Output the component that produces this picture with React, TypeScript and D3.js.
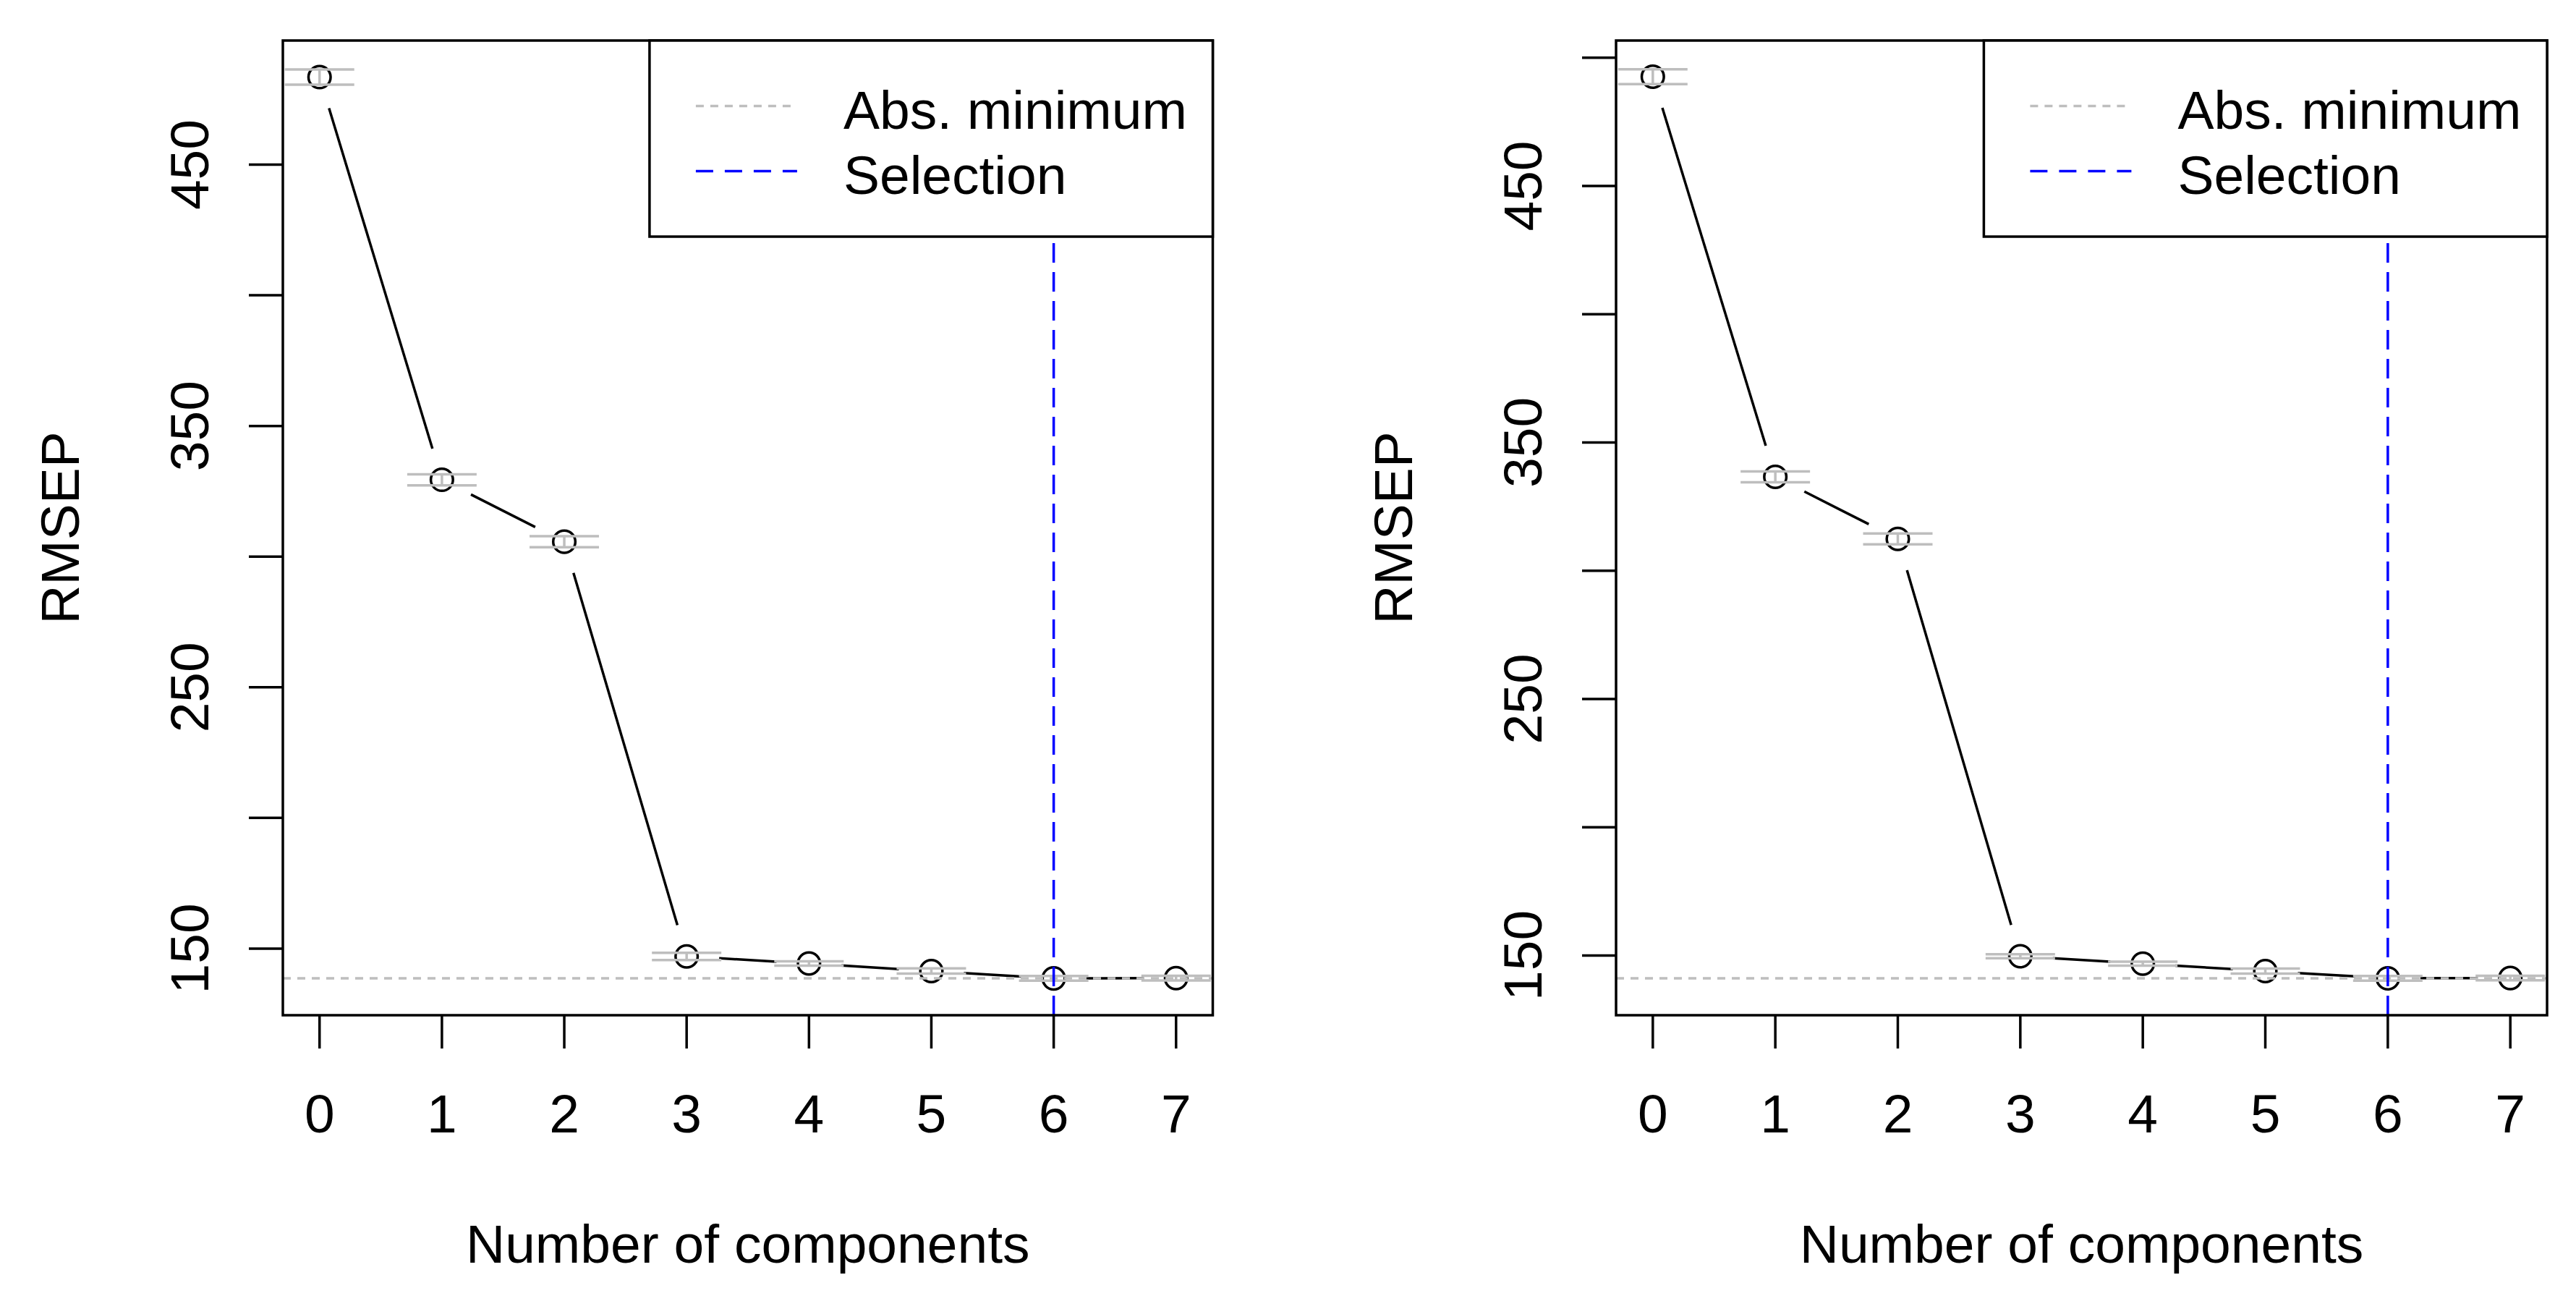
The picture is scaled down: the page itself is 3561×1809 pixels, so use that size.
import React from "react";
import * as d3 from "d3";

// ---------------- data ----------------
const components = [0, 1, 2, 3, 4, 5, 6, 7];
const rmsepLeft = [483.5, 329.4, 305.7, 147.0, 144.3, 141.4, 138.6, 138.7];
const seLeft = [2.9, 2.1, 2.1, 1.4, 0.8, 1.0, 0.9, 0.9];
const rmsepRight = [492.6, 336.6, 312.4, 149.7, 146.8, 143.9, 141.1, 141.2];
const seRight = [2.9, 2.1, 2.1, 0.8, 0.8, 1.0, 0.9, 0.9];
const absMinLeft = 138.6;
const absMinRight = 141.1;
const selectedComp = 6;
const yTicksLeft = [150, 200, 250, 300, 350, 400, 450];
const yTicksRight = [150, 200, 250, 300, 350, 400, 450, 500];
const yTickLabels = [150, 250, 350, 450];
const xTickValues = [0, 1, 2, 3, 4, 5, 6, 7];
const legendLabels = ["Abs. minimum", "Selection"];
const xTitle = "Number of components";
const yTitle = "RMSEP";

// ---------------- layout / style ----------------
const W = 3561;
const H = 1809;
const FONT = "'Liberation Sans', Arial, Helvetica, sans-serif";
const FS = 75;
const LW = 3.5;
const GRAY = "#BEBEBE";
const BLUE = "#0000FF";

type PanelProps = {
  x0: number;
  x1: number;
  y0: number;
  y1: number;
  yDomain: [number, number];
  values: number[];
  se: number[];
  absMin: number;
  yTicks: number[];
};

function Panel({ x0, x1, y0, y1, yDomain, values, se, absMin, yTicks }: PanelProps) {
  const x = d3.scaleLinear().domain([-0.3, 7.3]).range([x0, x1]);
  const y = d3.scaleLinear().domain(yDomain).range([y1, y0]);
  const pts = components.map((c, i) => [x(c), y(values[i])] as [number, number]);
  const gap = 45;
  const capHalf = 48;
  const r = 15.3;

  const segs: string[] = [];
  for (let i = 0; i < pts.length - 1; i++) {
    const [ax, ay] = pts[i];
    const [bx, by] = pts[i + 1];
    const dx = bx - ax;
    const dy = by - ay;
    const d = Math.hypot(dx, dy);
    if (d <= 2 * gap) continue;
    const ux = dx / d;
    const uy = dy / d;
    const path = d3.path();
    path.moveTo(ax + ux * gap, ay + uy * gap);
    path.lineTo(bx - ux * gap, by - uy * gap);
    segs.push(path.toString());
  }

  const legL = x1 - 778.6;
  const legT = y0;
  const legB = y0 + 271;
  const rowY = [legT + 90.6, legT + 180.4];
  const rowBase = [legT + 121.8, legT + 212];

  const cx = (x0 + x1) / 2;
  const cy = (y0 + y1) / 2;

  return (
    <g>
      {/* connecting lines (type = "b") */}
      {segs.map((p, i) => (
        <path key={"s" + i} d={p} stroke="#000" strokeWidth={LW} fill="none" strokeLinecap="butt" />
      ))}
      {/* points */}
      {pts.map(([px, py], i) => (
        <circle key={"c" + i} cx={px} cy={py} r={r} fill="none" stroke="#000" strokeWidth={LW} />
      ))}
      {/* error bars */}
      {components.map((c, i) => {
        const xc = x(c);
        const lo = y(values[i] - se[i]);
        const hi = y(values[i] + se[i]);
        return (
          <g key={"e" + i} stroke={GRAY} strokeWidth={LW} fill="none">
            <line x1={xc} x2={xc} y1={lo} y2={hi} />
            <line x1={xc - capHalf} x2={xc + capHalf} y1={lo} y2={lo} />
            <line x1={xc - capHalf} x2={xc + capHalf} y1={hi} y2={hi} />
          </g>
        );
      })}
      {/* absolute minimum */}
      <line
        x1={x0}
        x2={x1}
        y1={y(absMin)}
        y2={y(absMin)}
        stroke={GRAY}
        strokeWidth={LW}
        strokeDasharray="11 9"
      />
      {/* selection */}
      <line
        x1={x(selectedComp)}
        x2={x(selectedComp)}
        y1={y1}
        y2={y0}
        stroke={BLUE}
        strokeWidth={LW}
        strokeDasharray="27 13"
      />
      {/* box */}
      <rect x={x0} y={y0} width={x1 - x0} height={y1 - y0} fill="none" stroke="#000" strokeWidth={LW} />
      {/* x axis */}
      {xTickValues.map((t) => (
        <g key={"xt" + t}>
          <line x1={x(t)} x2={x(t)} y1={y1} y2={y1 + 46} stroke="#000" strokeWidth={LW} />
          <text x={x(t)} y={1565} textAnchor="middle" fontFamily={FONT} fontSize={FS} fill="#000">
            {t}
          </text>
        </g>
      ))}
      {/* y axis */}
      {yTicks.map((t) => (
        <line key={"yt" + t} x1={x0} x2={x0 - 47} y1={y(t)} y2={y(t)} stroke="#000" strokeWidth={LW} />
      ))}
      {yTickLabels.map((t) => (
        <text
          key={"yl" + t}
          transform={`translate(${x0 - 102.7},${y(t)}) rotate(-90)`}
          textAnchor="middle"
          fontFamily={FONT}
          fontSize={FS}
          fill="#000"
        >
          {t}
        </text>
      ))}
      {/* titles */}
      <text x={cx} y={1745} textAnchor="middle" fontFamily={FONT} fontSize={FS} fill="#000">
        {xTitle}
      </text>
      <text
        transform={`translate(${x0 - 282.1},${cy}) rotate(-90)`}
        textAnchor="middle"
        fontFamily={FONT}
        fontSize={FS}
        fill="#000"
      >
        {yTitle}
      </text>
      {/* legend */}
      <rect x={legL} y={legT} width={x1 - legL} height={legB - legT} fill="#fff" stroke="#000" strokeWidth={LW} />
      <line x1={legL + 64} x2={legL + 204} y1={rowY[0]} y2={rowY[0]} stroke={GRAY} strokeWidth={LW} strokeDasharray="11 9" />
      <line x1={legL + 64} x2={legL + 204} y1={rowY[1]} y2={rowY[1]} stroke={BLUE} strokeWidth={LW} strokeDasharray="24 16" />
      {legendLabels.map((lab, i) => (
        <text key={"lg" + i} x={legL + 268} y={rowBase[i]} fontFamily={FONT} fontSize={FS} fill="#000">
          {lab}
        </text>
      ))}
    </g>
  );
}

export default function App() {
  return (
    <svg
      width={W}
      height={H}
      viewBox={`0 0 ${W} ${H}`}
      style={{ position: "absolute", left: 0, top: 0, background: "#fff" }}
    >
      <rect x={0} y={0} width={W} height={H} fill="#fff" />
      <Panel
        x0={391}
        x1={1676.5}
        y0={56}
        y1={1403}
        yDomain={[124.5, 497.5]}
        values={rmsepLeft}
        se={seLeft}
        absMin={absMinLeft}
        yTicks={yTicksLeft}
      />
      <Panel
        x0={2234}
        x1={3521}
        y0={56}
        y1={1403}
        yDomain={[126.7, 506.7]}
        values={rmsepRight}
        se={seRight}
        absMin={absMinRight}
        yTicks={yTicksRight}
      />
    </svg>
  );
}
